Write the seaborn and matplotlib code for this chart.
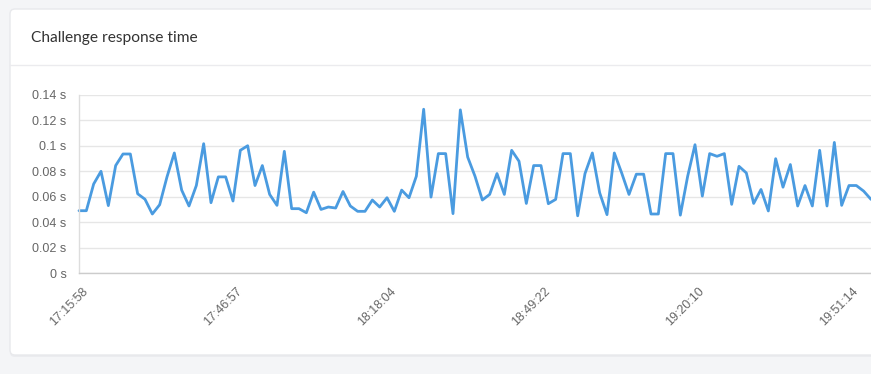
import matplotlib
matplotlib.use("Agg")
import matplotlib.pyplot as plt
import seaborn as sns
import pandas as pd
import numpy as np
from matplotlib.patches import FancyBboxPatch
from matplotlib.lines import Line2D
from matplotlib.transforms import IdentityTransform, ScaledTranslation

title = "Challenge response time"
response_time = [
    0.049, 0.049, 0.070, 0.080, 0.053, 0.0845, 0.0936, 0.0936, 0.0623, 0.058,
    0.0464, 0.0537, 0.0756, 0.0944, 0.0652, 0.0527, 0.0688, 0.1017, 0.0553, 0.0756,
    0.0756, 0.0566, 0.0965, 0.1001, 0.0688, 0.0845, 0.0618, 0.0532, 0.0957, 0.0506,
    0.0506, 0.0474, 0.0636, 0.050, 0.0519, 0.0511, 0.0641, 0.0527, 0.0485, 0.0485,
    0.0574, 0.0519, 0.0592, 0.0485, 0.0652, 0.0592, 0.0761, 0.1288, 0.0597, 0.0939,
    0.0939, 0.0467, 0.1283, 0.0912, 0.0761, 0.0574, 0.0618, 0.0782, 0.0618, 0.0965,
    0.0879, 0.0547, 0.0845, 0.0845, 0.0545, 0.0579, 0.0939, 0.0939, 0.045, 0.0782,
    0.0944, 0.0631, 0.0459, 0.0944, 0.0787, 0.0618, 0.0777, 0.0777, 0.0464, 0.0464,
    0.0939, 0.0939, 0.0455, 0.0761, 0.1009, 0.0605, 0.0939, 0.0918, 0.0939, 0.054,
    0.0839, 0.0787, 0.0547, 0.0657, 0.0488, 0.0899, 0.0675, 0.0853, 0.0527, 0.0688,
    0.0527, 0.0965, 0.0527, 0.1027, 0.0532, 0.0688, 0.0688, 0.0644, 0.0579,
]
tick_labels = ["17:15:58", "17:46:57", "18:18:04", "18:49:22", "19:20:10", "19:51:14"]
label_step = 21
y_ticks = [0, 0.02, 0.04, 0.06, 0.08, 0.10, 0.12, 0.14]

sns.set_theme(style="white")
plt.rcParams['font.family'] = ['Liberation Sans', 'DejaVu Sans']

W, H = 871, 374
fig = plt.figure(figsize=(W / 100, H / 100), dpi=100)
fig.patch.set_facecolor('#f4f5f7')

ident = IdentityTransform()
# card shadow
shadow = FancyBboxPatch((10, H - 357), 900, 348, boxstyle="round,pad=0,rounding_size=5",
                        transform=ident, facecolor='#ebecef', edgecolor='none', zorder=0)
fig.add_artist(shadow)
card = FancyBboxPatch((10, H - 355), 900, 346, boxstyle="round,pad=0,rounding_size=5",
                      transform=ident, facecolor='white', edgecolor='#e8e9ec', lw=1, zorder=1)
fig.add_artist(card)
fig.add_artist(Line2D([10, W], [H - 64.5, H - 64.5], transform=ident, color='#ebebee', lw=1, zorder=2))
fig.text(31 / W, 1 - 38 / H, title, va='center', ha='left', fontsize=11.2,
         family=['Lato', 'DejaVu Sans'], color='#333333', zorder=3)

ax = fig.add_axes([79 / W, (H - 273) / H, (W - 79) / W, (273 - 95) / H])
ax.set_zorder(3)
ax.set_facecolor('white')

df = pd.DataFrame({'idx': np.arange(len(response_time)), 'time': response_time})
sns.lineplot(data=df, x='idx', y='time', ax=ax, color='#4a9be0', lw=2, clip_on=False)

ax.set_xlim(0, len(response_time) - 1)
ax.set_ylim(0, 0.14)
ax.set_yticks(y_ticks)
ax.set_yticklabels([f"{round(v, 2):g} s" for v in y_ticks])
ax.set_xticks(np.arange(0, len(response_time), label_step)[:len(tick_labels)])
ax.set_xticklabels(tick_labels, rotation=45, ha='right', va='center', rotation_mode='anchor')
ax.set_xlabel('')
ax.set_ylabel('')
ax.grid(axis='y', color='#e6e6e6', lw=1)
ax.grid(axis='x', visible=False)
for s in ['top', 'right']:
    ax.spines[s].set_visible(False)
ax.spines['left'].set_color('#dddddd')
ax.spines['bottom'].set_color('#cccccc')
ax.spines['left'].set_linewidth(1)
ax.spines['bottom'].set_linewidth(1)
ax.tick_params(axis='y', length=6, width=1, color='#e6e6e6', pad=3, labelsize=9, labelcolor='#666666')
ax.tick_params(axis='x', length=0, pad=12, labelsize=9, labelcolor='#666666')
for lab in ax.get_xticklabels():
    lab.set_transform(lab.get_transform() + ScaledTranslation(0.075, 0, fig.dpi_scale_trans))

fig.savefig("out.png", dpi=100, facecolor=fig.get_facecolor())
